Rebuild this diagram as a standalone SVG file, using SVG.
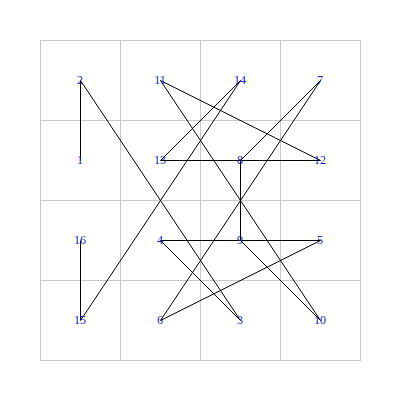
<svg xmlns="http://www.w3.org/2000/svg" width="400" height="400" viewBox="0 0 400 400">
<style>
.grid{stroke:#c8c8c8;stroke-width:1;fill:none}
.edge{stroke:#000;stroke-width:1;fill:none}
.lbl{font-family:"Liberation Serif",serif;font-size:12px;fill:#2020c8;text-anchor:middle;dominant-baseline:central}
</style>
<rect width="400" height="400" fill="#fff"/>
<g id="grid" class="grid">
<rect x="40.5" y="40.5" width="320" height="320"/>
<path d="M120.5 40.5V360.5M200.5 40.5V360.5M280.5 40.5V360.5M40.5 120.5H360.5M40.5 200.5H360.5M40.5 280.5H360.5"/>
</g>
<g id="connectors" class="edge">
<path d="M80.5 160.5L80.5 80.5L240.5 320.5L160.5 240.5L320.5 240.5L160.5 320.5L320.5 80.5L240.5 160.5L240.5 240.5L320.5 320.5L160.5 80.5L320.5 160.5L160.5 160.5L240.5 80.5L80.5 320.5L80.5 240.5"/>
</g>
<g id="n1"><text class="lbl" x="80" y="160">1</text></g>
<g id="n2"><text class="lbl" x="80" y="80">2</text></g>
<g id="n3"><text class="lbl" x="240" y="320">3</text></g>
<g id="n4"><text class="lbl" x="160" y="240">4</text></g>
<g id="n5"><text class="lbl" x="320" y="240">5</text></g>
<g id="n6"><text class="lbl" x="160" y="320">6</text></g>
<g id="n7"><text class="lbl" x="320" y="80">7</text></g>
<g id="n8"><text class="lbl" x="240" y="160">8</text></g>
<g id="n9"><text class="lbl" x="240" y="240">9</text></g>
<g id="n10"><text class="lbl" x="320" y="320">10</text></g>
<g id="n11"><text class="lbl" x="160" y="80">11</text></g>
<g id="n12"><text class="lbl" x="320" y="160">12</text></g>
<g id="n13"><text class="lbl" x="160" y="160">13</text></g>
<g id="n14"><text class="lbl" x="240" y="80">14</text></g>
<g id="n15"><text class="lbl" x="80" y="320">15</text></g>
<g id="n16"><text class="lbl" x="80" y="240">16</text></g>
</svg>
